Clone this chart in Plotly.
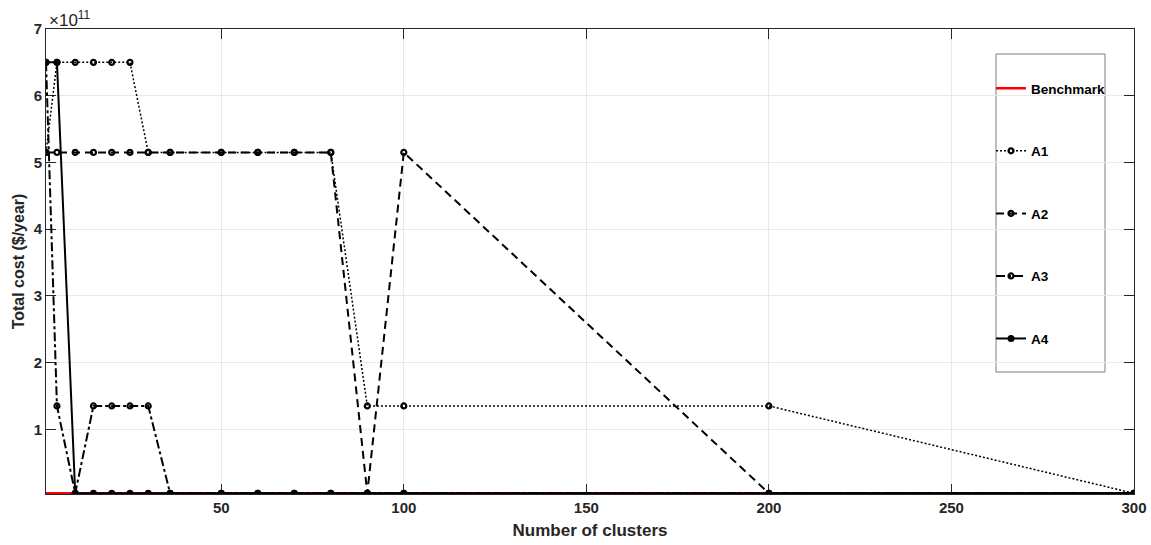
import plotly.graph_objects as go

# Number of clusters
clusters = [2, 5, 10, 15, 20, 25, 30, 36, 50, 60, 70, 80, 90, 100, 200, 300]
# Total cost in units of 1e11 $/year
benchmark = [0.04] * len(clusters)
a1 = [5.15, 6.5, 6.5, 6.5, 6.5, 6.5, 5.15, 5.15, 5.15, 5.15, 5.15, 5.15, 1.35, 1.35, 1.35, 0.04]
a2 = [5.15, 5.15, 5.15, 5.15, 5.15, 5.15, 5.15, 5.15, 5.15, 5.15, 5.15, 5.15, 0.04, 5.15, 0.04, 0.04]
a3 = [6.5, 1.35, 0.04, 1.35, 1.35, 1.35, 1.35, 0.04, 0.04, 0.04, 0.04, 0.04, 0.04, 0.04, 0.04, 0.04]
a4 = [6.5, 6.5, 0.04, 0.04, 0.04, 0.04, 0.04, 0.04, 0.04, 0.04, 0.04, 0.04, 0.04, 0.04, 0.04, 0.04]

x_ticks = [50, 100, 150, 200, 250, 300]
y_ticks = [1, 2, 3, 4, 5, 6, 7]

FONT = "Liberation Sans, Arial, sans-serif"
TXT = "#262626"

# plot-area pixel geometry
L, R, T, B = 46, 1134, 29, 494
PW, PH = R - L, B - T


def px(xp):
    return (xp - L) / PW


def py(yp):
    return (B - yp) / PH


fig = go.Figure()
fig.add_trace(go.Scatter(x=clusters, y=benchmark, mode="lines", name="Benchmark",
                         line=dict(color="#ff0000", width=2.5), legendgroup="b"))
fig.add_trace(go.Scatter(x=clusters, y=a1, mode="lines+markers", name="A1",
                         line=dict(color="black", width=1.5, dash="2px,2px"),
                         marker=dict(symbol="circle-open", size=5, color="black", line=dict(width=2.2)),
                         legendgroup="a1"))
fig.add_trace(go.Scatter(x=clusters, y=a2, mode="lines+markers", name="A2",
                         line=dict(color="black", width=2, dash="8px,5px"),
                         marker=dict(symbol="circle-open", size=5, color="black", line=dict(width=2.2)),
                         legendgroup="a2"))
fig.add_trace(go.Scatter(x=clusters, y=a3, mode="lines+markers", name="A3",
                         line=dict(color="black", width=2, dash="dashdot"),
                         marker=dict(symbol="circle-open", size=5, color="black", line=dict(width=2.2)),
                         legendgroup="a3"))
fig.add_trace(go.Scatter(x=clusters, y=a4, mode="lines+markers", name="A4",
                         line=dict(color="black", width=2),
                         marker=dict(symbol="circle", size=7, color="black"),
                         legendgroup="a4"))

axis_common = dict(
    showline=True, linecolor="#262626", linewidth=1, mirror="allticks",
    ticks="inside", ticklen=10, tickcolor="#262626", tickwidth=1,
    showgrid=True, gridcolor="#e8e8e8", gridwidth=1, zeroline=False,
    automargin=False, layer="below traces",
    tickfont=dict(family=FONT, size=15, color=TXT, weight="bold"),
)

fig.update_layout(
    width=1151, height=545,
    margin=dict(l=L, r=1151 - R, t=T, b=545 - B),
    paper_bgcolor="white", plot_bgcolor="white",
    font=dict(family=FONT, color=TXT),
    xaxis=dict(range=[2, 300], tickvals=x_ticks,
               title=dict(text="Number of clusters", standoff=9,
                          font=dict(family=FONT, size=17, color=TXT, weight="bold")),
               **axis_common),
    yaxis=dict(range=[0.03, 7], tickvals=y_ticks,
               title=dict(text="Total cost ($/year)", standoff=5,
                          font=dict(family=FONT, size=16, color=TXT, weight="bold")),
               **axis_common),
    legend=dict(x=px(991), y=py(73), xanchor="left", yanchor="top",
                bgcolor="rgba(0,0,0,0)", borderwidth=0, itemwidth=30,
                tracegroupgap=42,
                font=dict(family=FONT, size=13.5, color="black", weight="bold")),
    shapes=[dict(type="rect", xref="paper", yref="paper",
                 x0=px(996), x1=px(1105), y0=py(372), y1=py(54),
                 line=dict(color="#7f7f7f", width=1), fillcolor="white", layer="below")],
    annotations=[dict(text="×10<sup>11</sup>", xref="paper", yref="paper",
                      x=0, y=1, xanchor="left", yanchor="bottom", showarrow=False,
                      xshift=1, yshift=-3,
                      font=dict(family=FONT, size=17, color="#262626"))],
)

fig.write_html("out.html")
